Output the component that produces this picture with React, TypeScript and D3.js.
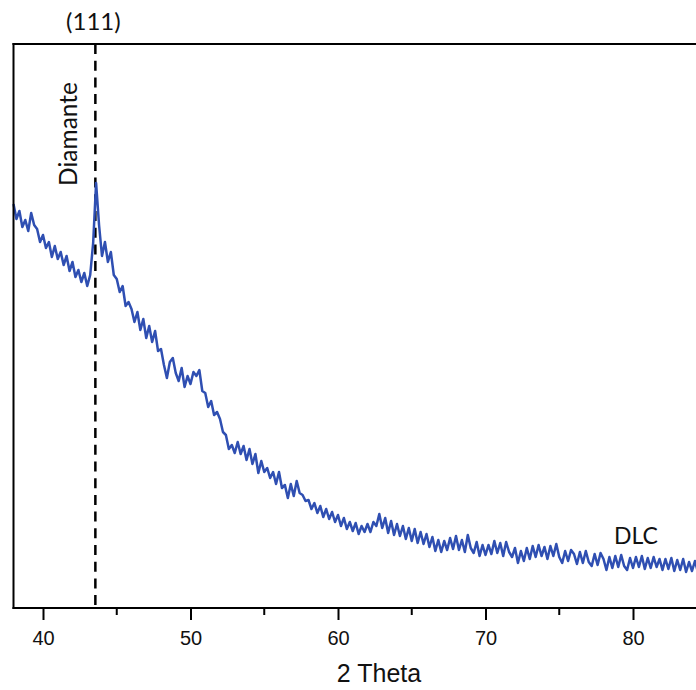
import React, { useEffect, useRef } from 'react';
import * as d3 from 'd3';

// XRD scan, 2 theta from 38.0 in steps of 0.2 degrees
const thetaStart = 38.0;
const thetaStep = 0.2;
const intensity = [
  404, 389, 397, 381, 388, 377, 395, 383, 379, 366,
  373, 360, 366, 351, 362, 349, 356, 343, 352, 337,
  346, 331, 338, 326, 335, 322, 333, 365, 425, 383,
  352, 366, 346, 356, 333, 329, 316, 322, 302, 306,
  299, 286, 296, 278, 289, 270, 282, 266, 277, 257,
  259, 243, 230, 246, 250, 235, 227, 240, 221, 232,
  224, 236, 232, 238, 217, 215, 201, 207, 193, 196,
  189, 176, 173, 159, 163, 155, 166, 154, 162, 148,
  159, 144, 154, 135, 147, 136, 140, 130, 136, 124,
  136, 120, 123, 110, 124, 112, 127, 115, 113, 107,
  108, 99, 105, 95, 102, 91, 99, 89, 96, 86,
  93, 82, 90, 79, 86, 77, 85, 74, 82, 76,
  84, 76, 86, 82, 94, 80, 90, 75, 87, 73,
  84, 72, 82, 69, 80, 67, 79, 65, 76, 64,
  74, 61, 71, 57, 68, 56, 67, 58, 70, 59,
  72, 58, 68, 56, 73, 60, 55, 66, 52, 63,
  53, 63, 54, 67, 55, 65, 52, 66, 56, 51,
  60, 45, 57, 47, 60, 49, 62, 51, 63, 52,
  61, 49, 62, 52, 64, 51, 45, 57, 47, 58,
  54, 44, 56, 45, 57, 46, 42, 54, 43, 55,
  49, 38, 51, 40, 52, 41, 53, 42, 38, 50,
  40, 51, 41, 52, 39, 50, 40, 51, 41, 49,
  38, 49, 39, 50, 37, 48, 38, 49, 36, 46,
  37, 47, 36,
];

const majorTicks = [40, 50, 60, 70, 80];
const minorTicks = [45, 55, 65, 75];
const diamondPeak = 43.55;
const xTitle = '2 Theta';
const peakLabel = '(111)';
const phaseLabel = 'Diamante';
const dlcLabel = 'DLC';
const dlcAt = 80.2;

const width = 696;
const height = 690;
const margin = { left: 13.5, top: 44, bottom: 82 };

const App = () => {
  const ref = useRef<SVGSVGElement>(null);

  useEffect(() => {
    const svg = d3.select(ref.current);
    svg.selectAll('*').remove();

    const data = intensity.map((v, i) => ({ t: thetaStart + i * thetaStep, v }));
    const bottom = height - margin.bottom; // 608

    const x = d3.scaleLinear()
      .domain([38, 84.3])
      .range([margin.left, margin.left + 46.3 * 14.75]);
    const y = d3.scaleLinear()
      .domain([0, 564])
      .range([bottom, margin.top]);

    // dashed diamond (111) marker
    svg.append('line')
      .attr('x1', x(diamondPeak)).attr('x2', x(diamondPeak))
      .attr('y1', margin.top).attr('y2', bottom)
      .attr('stroke', '#000')
      .attr('stroke-width', 2.5)
      .attr('stroke-dasharray', '10,6.7');

    // pattern
    const line = d3.line<{ t: number; v: number }>()
      .x(d => x(d.t))
      .y(d => y(d.v));
    svg.append('path')
      .datum(data)
      .attr('d', line)
      .attr('fill', 'none')
      .attr('stroke', '#2f4fb2')
      .attr('stroke-width', 2.5)
      .attr('stroke-linejoin', 'round');

    // frame: left and top
    svg.append('line')
      .attr('x1', margin.left).attr('x2', margin.left)
      .attr('y1', margin.top - 1).attr('y2', bottom + 1)
      .attr('stroke', '#000').attr('stroke-width', 2);
    svg.append('line')
      .attr('x1', margin.left - 1).attr('x2', width)
      .attr('y1', margin.top).attr('y2', margin.top)
      .attr('stroke', '#000').attr('stroke-width', 2);

    // bottom axis
    const axis = svg.append('g').attr('transform', `translate(0,${bottom})`);
    axis.call(
      d3.axisBottom(x)
        .tickValues(majorTicks)
        .tickSize(12)
        .tickPadding(11)
        .tickFormat(d3.format('d'))
    );
    axis.select('.domain')
      .attr('d', `M${margin.left - 1},0H${width}`)
      .attr('stroke-width', 2);
    axis.selectAll('.tick line').attr('stroke-width', 2);
    axis.selectAll('.tick text')
      .attr('font-family', 'Arial, "Liberation Sans", sans-serif')
      .attr('font-size', 20)
      .attr('fill', '#111');

    axis.append('g')
      .selectAll('line')
      .data(minorTicks)
      .enter()
      .append('line')
      .attr('x1', d => x(d)).attr('x2', d => x(d))
      .attr('y1', 0).attr('y2', 7)
      .attr('stroke', '#000').attr('stroke-width', 2);

    svg.append('text')
      .attr('x', 379)
      .attr('y', 682)
      .attr('text-anchor', 'middle')
      .attr('font-family', 'Arial, "Liberation Sans", sans-serif')
      .attr('font-size', 25)
      .attr('fill', '#111')
      .text(xTitle);

    const labelFont = 'Lato, "Open Sans", sans-serif';
    svg.append('text')
      .attr('x', x(diamondPeak) - 2)
      .attr('y', 30)
      .attr('text-anchor', 'middle')
      .attr('font-family', labelFont)
      .attr('font-size', 24)
      .attr('fill', '#111')
      .text(peakLabel);

    svg.append('text')
      .attr('transform', `translate(77,134) rotate(-90)`)
      .attr('text-anchor', 'middle')
      .attr('font-family', labelFont)
      .attr('font-size', 24.5)
      .attr('fill', '#111')
      .text(phaseLabel);

    svg.append('text')
      .attr('x', x(dlcAt))
      .attr('y', 544)
      .attr('text-anchor', 'middle')
      .attr('font-family', labelFont)
      .attr('font-size', 23)
      .attr('fill', '#111')
      .text(dlcLabel);
  }, []);

  return (
    <svg
      ref={ref}
      width={width}
      height={height}
      style={{ position: 'absolute', left: 0, top: 0, background: '#fff' }}
    />
  );
};

export default App;
